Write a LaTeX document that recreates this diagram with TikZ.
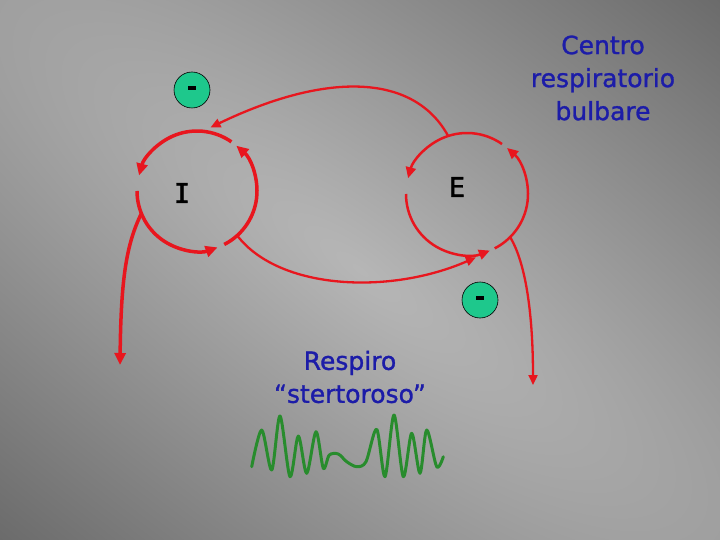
\documentclass[tikz,border=0pt]{standalone}
\usepackage{fontspec}
\setmainfont{DejaVu Sans}
\newfontfamily\labelfont{DejaVu Sans}[FakeBold=1.2]
\newfontfamily\monofont{DejaVu Sans Mono}[FakeBold=1.5]
\usetikzlibrary{arrows.meta}
\definecolor{bgdark}{RGB}{106,106,106}
\definecolor{bglight}{RGB}{182,182,182}
\definecolor{redline}{RGB}{232,22,30}
\definecolor{bluetext}{RGB}{28,28,168}
\definecolor{wavegreen}{RGB}{40,140,45}
\definecolor{minusgreen}{RGB}{30,200,140}
\begin{document}
\begin{tikzpicture}[x=1pt,y=-1pt,
  thickarc/.style={draw=redline, line width=3.5pt, -{Triangle[length=12pt,width=11pt]}},
  thinarc/.style={draw=redline, line width=2.5pt, -{Triangle[length=11pt,width=10pt]}},
  link/.style={draw=redline, line width=2.3pt, -{Triangle[length=10pt,width=9pt]}},
  minus/.style={circle, draw=black, line width=0.6pt, fill=minusgreen, minimum size=36pt, inner sep=0pt},
  bar/.style={draw=black, line width=3.5pt},
  bluelabel/.style={text=bluetext, align=center, font=\labelfont\fontsize{25}{33}\selectfont},
  letter/.style={font=\monofont\fontsize{27}{27}\selectfont},
  wave/.style={draw=wavegreen, line width=3pt, line join=round, line cap=round}]
\useasboundingbox (0,0) rectangle (720,540);
% background
\fill[bgdark] (0,0) rectangle (720,540);
\begin{scope}
  \clip (0,0) rectangle (720,540);
  \begin{scope}[transform canvas={rotate around={-36.9:(360,270)}}]
    \shade[inner color=bglight, outer color=bgdark] (360,270) ellipse [x radius=1500, y radius=440];
  \end{scope}
\end{scope}
% centres
\coordinate (Ic) at (197,191);
\coordinate (Ec) at (467,194);
\coordinate (outI) at (120,365);
\coordinate (outE) at (533,385);
% labels
\node[bluelabel] (centro) at (603,78) {Centro\\respiratorio\\bulbare};
\node[bluelabel] (respiro) at (350,377) {Respiro\\“stertoroso”};
\node[letter] (Ilab) at (182,193) {I};
\node[letter] (Elab) at (457,187) {E};
\node[minus] (m1) at (192,90) {};
\node[minus] (m2) at (480,300) {};
\draw[bar] ([shift={(-4,-2)}]m1.center) -- ([shift={(4,-2)}]m1.center);
\draw[bar] ([shift={(-4,-2)}]m2.center) -- ([shift={(4,-2)}]m2.center);
% I circle
\draw[thickarc] ([shift={(-55:60)}]Ic) arc[start angle=-55, end angle=-165, radius=60];
\draw[thickarc] ([shift={(63:60)}]Ic) arc[start angle=63, end angle=-49, radius=60];
\draw[thickarc] ([shift={(180:60)}]Ic) arc[start angle=180, end angle=70, radius=60];
\draw[thickarc] ([shift={(158:60)}]Ic) .. controls (126,245) and (121,280) .. (outI);
% E circle
\draw[thinarc] ([shift={(-55:61)}]Ec) arc[start angle=-55, end angle=-165, radius=61];
\draw[thinarc] ([shift={(63:61)}]Ec) arc[start angle=63, end angle=-49, radius=61];
\draw[thinarc] ([shift={(180:61)}]Ec) arc[start angle=180, end angle=68, radius=61];
% links
\draw[link] ([shift={(-108:61)}]Ec) .. controls (415,75) and (330,70) .. ([shift={(-78:65)}]Ic);
\draw[link] ([shift={(48:61)}]Ic) .. controls (280,290) and (390,295) .. ([shift={(82:64)}]Ec);
\draw[link] ([shift={(45:61)}]Ec) .. controls (527,265) and (533,320) .. (outE);
% wave
\draw[wave] plot[smooth, tension=0.5] coordinates {
 (251.7,466.7) (261.7,430) (271.7,470) (280,416) (290,476.7) (298.3,436)
 (306.7,473.3) (316,431.7) (323.3,468.3) (329.3,455) (338.3,454) (346.7,461.7)
 (356.7,466.7) (366,461.7) (376.7,429.3) (385,476.7) (394,415) (403.3,476.7)
 (411.7,433.3) (420,473.3) (426.7,430) (436.7,466.7) (443.3,456.7)};
\end{tikzpicture}
\end{document}
